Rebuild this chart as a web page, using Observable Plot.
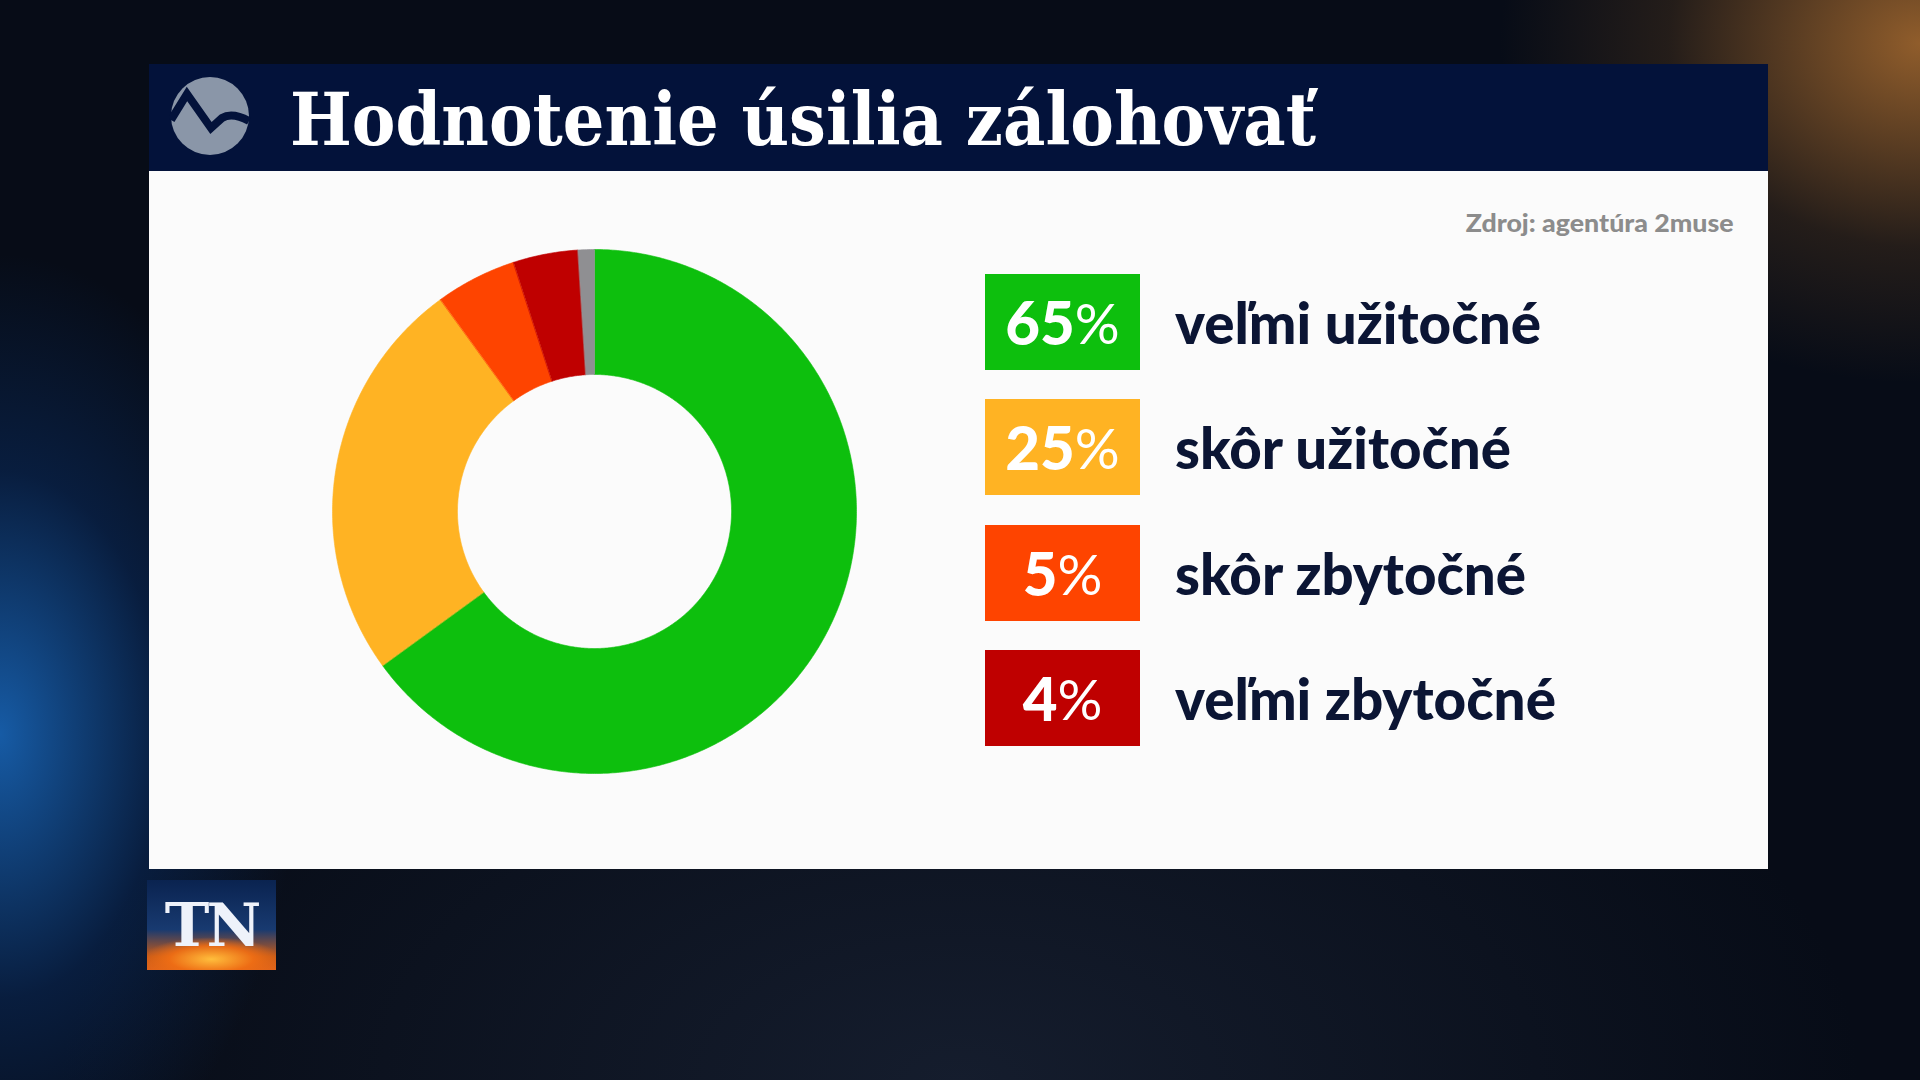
<!DOCTYPE html>
<html>
<head>
<meta charset="utf-8">
<script src="https://cdn.jsdelivr.net/npm/d3@7"></script>
<script src="https://cdn.jsdelivr.net/npm/@observablehq/plot@0.6"></script>
<style>
  html, body { margin:0; padding:0; }
  body {
    width:1920px; height:1080px; overflow:hidden; position:relative;
    background:
      radial-gradient(ellipse 300px 480px at 0% 68%, rgba(25,105,190,0.85), rgba(10,50,110,0.45) 55%, transparent 100%),
      radial-gradient(ellipse 420px 340px at 100% 4%, rgba(190,120,50,0.75), rgba(90,60,30,0.35) 60%, transparent 100%),
      radial-gradient(ellipse 900px 500px at 50% 100%, rgba(30,40,60,0.6), transparent 100%),
      #070c17;
    font-family: Lato, "Open Sans", sans-serif;
  }
  #header {
    position:absolute; left:149px; top:64px; width:1619px; height:107px;
    background:#03123a;
  }
  #logo { position:absolute; left:169px; top:75px; }
  #title {
    position:absolute; left:290px; top:80px; white-space:nowrap;
    font-family:"DejaVu Serif", serif; font-weight:bold; font-size:72px; line-height:80px;
    color:#ffffff; transform-origin:left center;
  }
  #panel {
    position:absolute; left:149px; top:171px; width:1619px; height:698px;
    background:#fbfbfb;
  }
  #source {
    position:absolute; right:186px; top:207px; white-space:nowrap;
    font-family:Lato, sans-serif; font-weight:900; font-size:25px; line-height:30px;
    color:#8c8c8c; transform-origin:right center;
  }
  #chart { position:absolute; left:324px; top:241px; }
  .row { position:absolute; left:985px; height:96px; width:800px; }
  .box {
    position:absolute; left:0; top:0; width:155px; height:96px;
    display:flex; align-items:center; justify-content:center;
    color:#fff; font-family:Lato, sans-serif; font-weight:900; font-size:60px;
  }
  .box .pct { font-weight:normal; font-size:56px; }
  .lab {
    position:absolute; left:190px; top:0; height:96px; line-height:96px; white-space:nowrap;
    font-family:Lato, sans-serif; font-weight:900; font-size:58px; color:#0b1534;
    transform-origin:left center;
  }
  #tn {
    position:absolute; left:147px; top:880px; width:129px; height:90px;
    background:
      radial-gradient(ellipse 70px 22px at 50% 88%, rgba(255,190,60,1), rgba(240,110,20,0.9) 60%, transparent 100%),
      linear-gradient(180deg, #0a2350 0%, #183a70 55%, #c65a18 85%, #e2651a 100%);
    color:#eef2fa; font-family:"DejaVu Serif", serif; font-weight:bold; font-size:60px;
    display:flex; align-items:center; justify-content:center; letter-spacing:-3px;
  }
</style>
</head>
<body>
<div id="header"></div>
<svg id="logo" width="82" height="82" viewBox="-41 -41 82 82">
  <circle cx="0" cy="0" r="39" fill="#8a96a8"/>
  <path d="M-39,4 L-23,-22 L1,12 L12,2 Q22,-4 39,5" fill="none" stroke="#03123a" stroke-width="8" stroke-linejoin="miter"/>
</svg>
<div id="title">Hodnotenie úsilia zálohovať</div>
<div id="panel"></div>
<div id="source">Zdroj: agentúra 2muse</div>
<div id="chart"></div>
<div id="legend"></div>
<div id="tn">TN</div>

<script>
// ---- data ----
const categories = ["veľmi užitočné", "skôr užitočné", "skôr zbytočné", "veľmi zbytočné", "nevie"];
const values = [65, 25, 5, 4, 1];
const colors = ["#0dbf0d", "#ffb323", "#fe4400", "#bf0000", "#8f8f92"];
const legendShown = [true, true, true, true, false];

// ---- build slice outlines from cumulative shares ----
const innerRatio = 0.523;
const total = d3.sum(values);
let cum = 0;
const slices = categories.map((c, i) => {
  const a0 = cum / total * 2 * Math.PI;
  cum += values[i];
  const a1 = cum / total * 2 * Math.PI;
  const n = Math.max(4, Math.ceil((a1 - a0) / (Math.PI / 360)));
  const pts = [];
  for (let k = 0; k <= n; k++) {
    const a = a0 + (a1 - a0) * k / n;
    pts.push({x: Math.sin(a), y: Math.cos(a)});
  }
  for (let k = n; k >= 0; k--) {
    const a = a0 + (a1 - a0) * k / n;
    pts.push({x: innerRatio * Math.sin(a), y: innerRatio * Math.cos(a)});
  }
  return {category: c, color: colors[i], pts};
});

const chart = Plot.plot({
  width: 540,
  height: 540,
  margin: 8,
  style: {background: "transparent", overflow: "visible"},
  x: {domain: [-1, 1], axis: null},
  y: {domain: [-1, 1], axis: null},
  marks: slices.map(s =>
    Plot.line(s.pts, {x: "x", y: "y", curve: "linear-closed", fill: s.color, stroke: s.color, strokeWidth: 0.6})
  )
});
document.getElementById("chart").appendChild(chart);

// ---- legend ----
const legend = document.getElementById("legend");
const tops = [274, 399, 525, 650];
let r = 0;
categories.forEach((c, i) => {
  if (!legendShown[i]) return;
  const row = document.createElement("div");
  row.className = "row";
  row.style.top = tops[r] + "px";
  const box = document.createElement("div");
  box.className = "box";
  box.style.background = colors[i];
  box.innerHTML = `<span>${values[i]}</span><span class="pct">%</span>`;
  const lab = document.createElement("div");
  lab.className = "lab";
  lab.textContent = c;
  row.appendChild(box);
  row.appendChild(lab);
  legend.appendChild(row);
  r++;
});

// ---- fit text widths to the reference ----
function fitWidth(el, target) {
  const w = el.getBoundingClientRect().width;
  if (w > 0) el.style.transform = `scaleX(${target / w})`;
}
fitWidth(document.getElementById("title"), 1026);
fitWidth(document.getElementById("source"), 268);
const labTargets = [366, 336, 351, 381];
document.querySelectorAll(".lab").forEach((el, i) => fitWidth(el, labTargets[i]));
</script>
</body>
</html>
